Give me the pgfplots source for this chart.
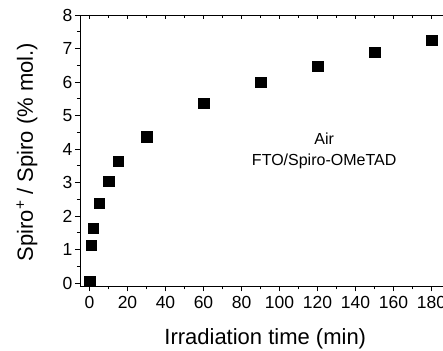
\documentclass[border=0pt]{standalone}
\usepackage{pgfplots}
\pgfplotsset{compat=1.18}
\usepackage{fontspec}
\setmainfont{Liberation Sans}
\begin{document}
\begin{tikzpicture}
\begin{axis}[name=ax,
  scale only axis=true,
  width=370.5pt, height=271.35pt,
  xmin=-5, xmax=190, ymin=-0.1, ymax=8,
  xtick={0,20,...,180}, ytick={0,1,...,8},
  minor x tick num=1, minor y tick num=1,
  xtick pos=bottom, ytick pos=left,
  tick align=outside,
  major tick length=5pt, minor tick length=3pt,
  tick style={black, line width=0.8pt},
  axis line style={black, line width=0.8pt},
  /pgf/number format/assume math mode=true,
  xticklabel={\fontsize{17.5}{20}\selectfont\pgfmathprintnumber{\tick}},
  yticklabel={\fontsize{17.5}{20}\selectfont\pgfmathprintnumber{\tick}},
  xticklabel style={yshift=-1pt},
  yticklabel style={xshift=1pt},
  xlabel={Irradiation time (min)},
  ylabel={Spiro\textsuperscript{+} / Spiro (\% mol.)},
  label style={font=\fontsize{22}{26}\selectfont},
  xlabel style={at={(axis description cs:0.5,-0.216)}, anchor=base},
  ylabel style={at={(axis description cs:-0.127,0.495)}, anchor=base, rotate=0},
  clip=false,
]
\addplot[only marks, mark=square*, mark size=5.2pt, black] coordinates {
 (0,0.06) (1,1.13) (2,1.63) (5,2.38) (10,3.04) (15,3.64) (30,4.37)
 (60,5.36) (90,5.99) (120,6.48) (150,6.89) (180,7.25)
};
\node[anchor=base, font=\fontsize{16}{19}\selectfont] at (axis cs:123.5,4.12) {Air};
\node[anchor=base, font=\fontsize{16}{19}\selectfont] at (axis cs:123.5,3.52) {FTO/Spiro-OMeTAD};
\end{axis}
\begin{axis}[
  scale only axis=true,
  width=370.5pt, height=271.35pt,
  xmin=-5, xmax=190, ymin=-0.1, ymax=8,
  xtick={0,20,...,180}, minor x tick num=1,
  xtick pos=top, xticklabels={}, ytick=\empty,
  tick align=inside,
  major tick length=4pt, minor tick length=3pt,
  tick style={black, line width=0.8pt},
  axis line style={black, line width=0.8pt},
]
\end{axis}
\pgfresetboundingbox
\path[use as bounding box] ([xshift=-80pt, yshift=-64.65pt]ax.south west) rectangle ([xshift=363pt, yshift=15pt]ax.north west);
\end{tikzpicture}
\end{document}
